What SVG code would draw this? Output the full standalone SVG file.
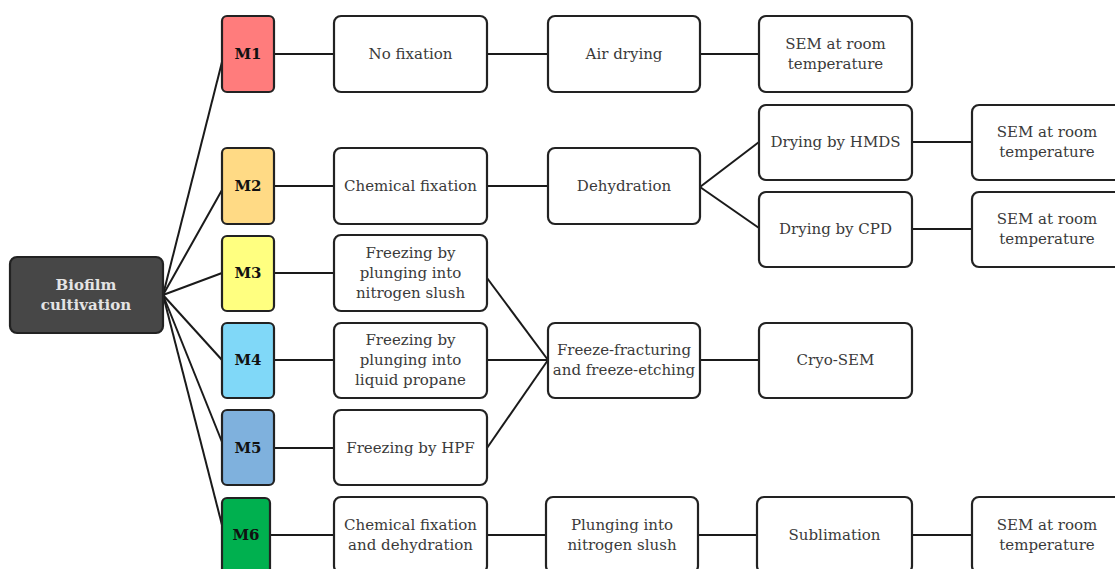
<svg xmlns="http://www.w3.org/2000/svg" width="1115" height="569" viewBox="0 0 1115 569">
<style>
.box{fill:#fff;stroke:#222;stroke-width:2.2}
.m{stroke:#222;stroke-width:2.2}
.t{font-family:"DejaVu Serif","Liberation Serif",serif;font-size:15px;fill:#3a3a3a;text-anchor:middle}
.ml{font-family:"DejaVu Serif","Liberation Serif",serif;font-size:15px;font-weight:bold;fill:#111;text-anchor:middle}
.bt{font-family:"DejaVu Serif","Liberation Serif",serif;font-size:15px;font-weight:bold;fill:#e4e4e4;text-anchor:middle}
#connectors line{stroke:#1a1a1a;stroke-width:2}
</style>
<rect width="1115" height="569" fill="#fff"/>
<g id="connectors">
<line x1="163" y1="295" x2="222" y2="62"/>
<line x1="163" y1="295" x2="222" y2="190"/>
<line x1="163" y1="295" x2="222" y2="273"/>
<line x1="163" y1="295" x2="222" y2="360"/>
<line x1="163" y1="295" x2="222" y2="442"/>
<line x1="163" y1="295" x2="222" y2="525"/>
<line x1="274" y1="54" x2="334" y2="54"/>
<line x1="487" y1="54" x2="548" y2="54"/>
<line x1="700" y1="54" x2="759" y2="54"/>
<line x1="274" y1="186" x2="334" y2="186"/>
<line x1="487" y1="186" x2="548" y2="186"/>
<line x1="700" y1="187" x2="759" y2="142"/>
<line x1="700" y1="187" x2="759" y2="228"/>
<line x1="912" y1="142" x2="972" y2="142"/>
<line x1="912" y1="229" x2="972" y2="229"/>
<line x1="274" y1="273" x2="334" y2="273"/>
<line x1="487" y1="278" x2="548" y2="360"/>
<line x1="274" y1="360" x2="334" y2="360"/>
<line x1="487" y1="360" x2="548" y2="360"/>
<line x1="274" y1="448" x2="334" y2="448"/>
<line x1="487" y1="448" x2="548" y2="360"/>
<line x1="700" y1="360" x2="759" y2="360"/>
<line x1="270" y1="535" x2="334" y2="535"/>
<line x1="487" y1="535" x2="546" y2="535"/>
<line x1="698" y1="535" x2="757" y2="535"/>
<line x1="912" y1="535" x2="972" y2="535"/>
</g>
<g id="biofilm"><rect x="10" y="257" width="153" height="76" rx="7" fill="#474747" stroke="#222" stroke-width="2.2"/><text class="bt" x="86" y="290">Biofilm</text><text class="bt" x="86" y="310">cultivation</text></g>
<g id="m1"><rect class="m" x="222" y="16" width="52" height="76" rx="5" fill="#ff7c7c"/><text class="ml" x="248" y="59">M1</text></g>
<g id="m2"><rect class="m" x="222" y="148" width="52" height="76" rx="5" fill="#ffda85"/><text class="ml" x="248" y="191">M2</text></g>
<g id="m3"><rect class="m" x="222" y="236" width="52" height="75" rx="5" fill="#ffff80"/><text class="ml" x="248" y="278">M3</text></g>
<g id="m4"><rect class="m" x="222" y="323" width="52" height="75" rx="5" fill="#80d8f8"/><text class="ml" x="248" y="365">M4</text></g>
<g id="m5"><rect class="m" x="222" y="410" width="52" height="75" rx="5" fill="#7fb1dd"/><text class="ml" x="248" y="453">M5</text></g>
<g id="m6"><rect class="m" x="222" y="498" width="48" height="76" rx="5" fill="#00b04f"/><text class="ml" x="246" y="540">M6</text></g>
<g id="nofix"><rect class="box" x="334" y="16" width="153" height="76" rx="7"/><text class="t" x="410.5" y="59">No fixation</text></g>
<g id="airdry"><rect class="box" x="548" y="16" width="152" height="76" rx="7"/><text class="t" x="624" y="59">Air drying</text></g>
<g id="sem1"><rect class="box" x="759" y="16" width="153" height="76" rx="7"/><text class="t" x="835.5" y="49">SEM  at room</text><text class="t" x="835.5" y="69">temperature</text></g>
<g id="chemfix"><rect class="box" x="334" y="148" width="153" height="76" rx="7"/><text class="t" x="410.5" y="191">Chemical fixation</text></g>
<g id="dehyd"><rect class="box" x="548" y="148" width="152" height="76" rx="7"/><text class="t" x="624" y="191">Dehydration</text></g>
<g id="hmds"><rect class="box" x="759" y="105" width="153" height="75" rx="7"/><text class="t" x="835.5" y="147">Drying by HMDS</text></g>
<g id="sem2"><rect class="box" x="972" y="105" width="150" height="75" rx="7"/><text class="t" x="1047" y="137">SEM  at room</text><text class="t" x="1047" y="157">temperature</text></g>
<g id="cpd"><rect class="box" x="759" y="192" width="153" height="75" rx="7"/><text class="t" x="835.5" y="234">Drying by CPD</text></g>
<g id="sem3"><rect class="box" x="972" y="192" width="150" height="75" rx="7"/><text class="t" x="1047" y="224">SEM  at room</text><text class="t" x="1047" y="244">temperature</text></g>
<g id="freeze1"><rect class="box" x="334" y="235" width="153" height="76" rx="7"/><text class="t" x="410.5" y="258">Freezing by</text><text class="t" x="410.5" y="278">plunging into</text><text class="t" x="410.5" y="298">nitrogen slush</text></g>
<g id="freeze2"><rect class="box" x="334" y="323" width="153" height="75" rx="7"/><text class="t" x="410.5" y="345">Freezing by</text><text class="t" x="410.5" y="365">plunging into</text><text class="t" x="410.5" y="385">liquid propane</text></g>
<g id="freeze3"><rect class="box" x="334" y="410" width="153" height="75" rx="7"/><text class="t" x="410.5" y="453">Freezing by HPF</text></g>
<g id="fracture"><rect class="box" x="548" y="323" width="152" height="75" rx="7"/><text class="t" x="624" y="355">Freeze-fracturing</text><text class="t" x="624" y="375">and freeze-etching</text></g>
<g id="cryosem"><rect class="box" x="759" y="323" width="153" height="75" rx="7"/><text class="t" x="835.5" y="365">Cryo-SEM</text></g>
<g id="chemdehyd"><rect class="box" x="334" y="497" width="153" height="76" rx="7"/><text class="t" x="410.5" y="530">Chemical fixation</text><text class="t" x="410.5" y="550">and dehydration</text></g>
<g id="plunge"><rect class="box" x="546" y="497" width="152" height="76" rx="7"/><text class="t" x="622" y="530">Plunging into</text><text class="t" x="622" y="550">nitrogen slush</text></g>
<g id="sublim"><rect class="box" x="757" y="497" width="155" height="76" rx="7"/><text class="t" x="834.5" y="540">Sublimation</text></g>
<g id="sem4"><rect class="box" x="972" y="497" width="150" height="76" rx="7"/><text class="t" x="1047" y="530">SEM  at room</text><text class="t" x="1047" y="550">temperature</text></g>
</svg>
